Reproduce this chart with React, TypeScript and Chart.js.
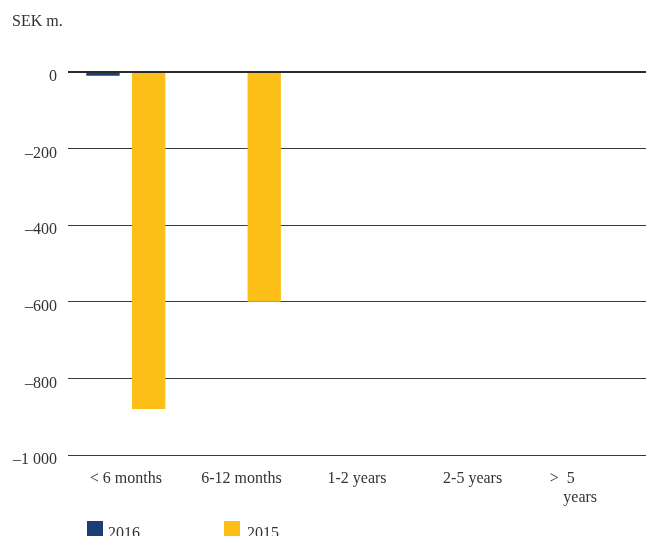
import React, { useEffect, useRef } from "react";
import { Chart, registerables } from "chart.js";

Chart.register(...registerables);

const categories: (string | string[])[] = ["< 6 months", "6-12 months", "1-2 years", "2-5 years", [">  5", "years"]];
const series2016: number[] = [-10, 0, 0, 0, 0];
const series2015: number[] = [-880, -600, -2, 0, 0];
const yTicks: number[] = [0, -200, -400, -600, -800, -1000];

const BLUE = "#1c3d75";
const YELLOW = "#fcbf17";
const TEXT = "#333333";
const FONT = "'Liberation Serif', 'Times New Roman', serif";

function fmt(v: number): string {
  const abs = Math.abs(v);
  const s = abs >= 1000 ? String(abs).replace(/\B(?=(\d{3})+(?!\d))/g, " ") : String(abs);
  return v < 0 ? "\u2013" + s : s;
}

const zeroLinePlugin = {
  id: "zeroLine",
  afterDatasetsDraw(chart: any) {
    const y = chart.scales.y;
    const { left, right } = chart.chartArea;
    const py = y.getPixelForValue(0);
    const ctx = chart.ctx;
    ctx.save();
    ctx.strokeStyle = "#2a2a2a";
    ctx.lineWidth = 2;
    ctx.beginPath();
    ctx.moveTo(left, py);
    ctx.lineTo(right, py);
    ctx.stroke();
    ctx.restore();
  },
};

export default function App() {
  const ref = useRef<HTMLCanvasElement | null>(null);

  useEffect(() => {
    if (!ref.current) return;
    const chart = new Chart(ref.current, {
      type: "bar",
      data: {
        labels: categories as any,
        datasets: [
          { label: "2016", data: series2016, backgroundColor: BLUE, barPercentage: 0.73, categoryPercentage: 0.79 },
          { label: "2015", data: series2015, backgroundColor: YELLOW, barPercentage: 0.73, categoryPercentage: 0.79 },
        ],
      },
      options: {
        animation: false,
        responsive: false,
        maintainAspectRatio: false,
        layout: { padding: { top: 72, bottom: 11, left: 0, right: 0 } },
        plugins: { legend: { display: false }, tooltip: { enabled: false } },
        scales: {
          x: {
            grid: { display: false, drawTicks: false },
            border: { display: false },
            ticks: {
              color: TEXT,
              font: { family: FONT, size: 16 },
              padding: 14,
              maxRotation: 0,
              autoSkip: false,
              callback: function (this: any, _v: any, i: number) {
                const lab = categories[i];
                if (Array.isArray(lab)) {
                  return [lab[0] + "             ", lab[1] + "    "];
                }
                return lab;
              },
            },
            afterFit: (s: any) => {
              s.height = 70;
            },
          },
          y: {
            min: -1000,
            max: 0,
            afterBuildTicks: (s: any) => {
              s.ticks = yTicks.map((v) => ({ value: v }));
            },
            grid: {
              drawTicks: false,
              color: "#3a3a3a",
              lineWidth: 1,
            },
            border: { display: false },
            ticks: {
              color: TEXT,
              font: { family: FONT, size: 16 },
              padding: 11,
              labelOffset: 5,
              callback: (v: any) => fmt(Number(v)),
            },
            afterFit: (s: any) => {
              s.width = 68;
            },
          },
        },
      },
      plugins: [zeroLinePlugin],
    });
    return () => chart.destroy();
  }, []);

  const textStyle: React.CSSProperties = {
    position: "absolute",
    fontFamily: FONT,
    fontSize: 16,
    lineHeight: "16px",
    color: TEXT,
    whiteSpace: "nowrap",
  };

  return (
    <div style={{ position: "fixed", left: 0, top: 0, width: 646, height: 536, overflow: "hidden", background: "#fff" }}>
      <canvas ref={ref} width={646} height={536} style={{ position: "absolute", left: 0, top: 0, width: 646, height: 536 }} />
      <div style={{ ...textStyle, left: 12, top: 13 }}>SEK m.</div>
      <div style={{ position: "absolute", left: 87, top: 521, width: 16, height: 16, background: BLUE }} />
      <div style={{ ...textStyle, left: 108, top: 525 }}>2016</div>
      <div style={{ position: "absolute", left: 224, top: 521, width: 16, height: 16, background: YELLOW }} />
      <div style={{ ...textStyle, left: 247, top: 525 }}>2015</div>
    </div>
  );
}
